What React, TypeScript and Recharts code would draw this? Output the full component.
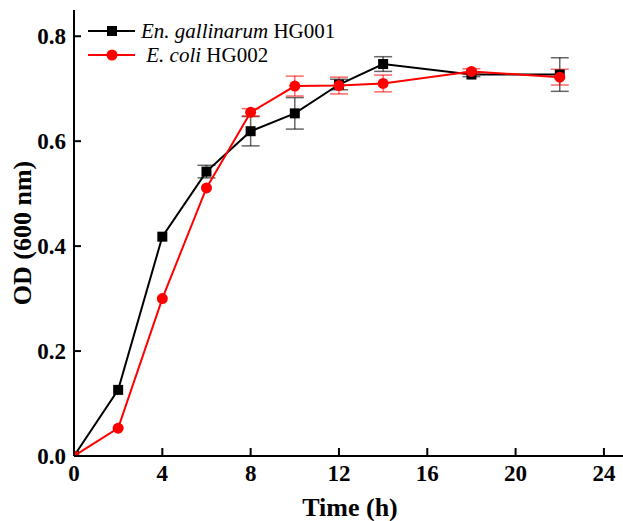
import React from "react";
import { LineChart, Line, XAxis, YAxis, ErrorBar, Legend } from "recharts";

// growth curves, OD600 over time
const timeH = [0, 2, 4, 6, 8, 10, 12, 14, 18, 22];
const enGallinarum = [0, 0.126, 0.418, 0.542, 0.619, 0.653, 0.708, 0.747, 0.727, 0.727];
const enGallinarumErr = [0, 0, 0, 0.012, 0.028, 0.03, 0.01, 0.014, 0.004, 0.032];
const eColi = [0, 0.053, 0.3, 0.511, 0.655, 0.705, 0.706, 0.71, 0.733, 0.722];
const eColiErr = [0, 0, 0, 0, 0.007, 0.019, 0.016, 0.016, 0.005, 0.015];

const xTicks = [0, 4, 8, 12, 16, 20, 24];
const yTicks = [0, 0.2, 0.4, 0.6, 0.8];

const legendItems = [
  { italic: "En. gallinarum", rest: " HG001", color: "#000000", shape: "square" },
  { italic: " E. coli", rest: " HG002", color: "#ff0000", shape: "circle" },
];

const data = timeH.map((t, i) => ({
  t,
  en: enGallinarum[i],
  enErr: enGallinarumErr[i],
  ec: eColi[i],
  ecErr: eColiErr[i],
}));

const FONT = "'Liberation Serif', 'Times New Roman', serif";
const TICK_GAP = 8;

function XTick(props: any) {
  const { x, y, payload } = props;
  const ay = y - TICK_GAP;
  return (
    <g>
      <line x1={x} x2={x} y1={ay} y2={ay - 8} stroke="#000" strokeWidth={2} />
      <text x={x} y={y} dy="0.75em" textAnchor="middle" fontFamily={FONT} fontWeight="bold" fontSize={23} fill="#000">
        {payload.value}
      </text>
    </g>
  );
}

function YTick(props: any) {
  const { x, y, payload } = props;
  const ax = x + TICK_GAP;
  return (
    <g>
      <line x1={ax} x2={ax + 7} y1={y} y2={y} stroke="#000" strokeWidth={2} />
      <text x={x} y={y} dy="0.35em" textAnchor="end" fontFamily={FONT} fontWeight="bold" fontSize={23} fill="#000">
        {payload.value.toFixed(1)}
      </text>
    </g>
  );
}

function XTitle(props: any) {
  const { viewBox } = props;
  return (
    <text x={viewBox.x + viewBox.width / 2} y={viewBox.y + 51} dy="0.35em" textAnchor="middle"
      fontFamily={FONT} fontWeight="bold" fontSize={26} fill="#000">
      Time (h)
    </text>
  );
}

function YTitle(props: any) {
  const { viewBox } = props;
  const cx = viewBox.x + 22;
  const cy = viewBox.y + viewBox.height / 2;
  return (
    <text x={cx} y={cy} dy="0.35em" textAnchor="middle" transform={`rotate(-90 ${cx} ${cy})`}
      fontFamily={FONT} fontWeight="bold" fontSize={26} fill="#000">
      OD (600 nm)
    </text>
  );
}

function SquareDot(props: any) {
  const { cx, cy } = props;
  if (cx == null || cy == null) return null;
  return <rect x={cx - 5} y={cy - 5} width={10} height={10} fill="#000" />;
}

function LegendBox() {
  return (
    <svg width={280} height={60}>
      {legendItems.map((it, i) => {
        const y = 17 + i * 24;
        return (
          <g key={i}>
            <line x1={8} x2={55} y1={y} y2={y} stroke={it.color} strokeWidth={2} />
            {it.shape === "square" ? (
              <rect x={27} y={y - 5} width={10} height={10} fill={it.color} />
            ) : (
              <circle cx={32} cy={y} r={5.5} fill={it.color} />
            )}
            <text x={61} y={y} dy="0.35em" fontFamily={FONT} fontSize={21} fill="#000" xmlSpace="preserve">
              <tspan fontStyle="italic">{it.italic}</tspan>
              <tspan>{it.rest}</tspan>
            </text>
          </g>
        );
      })}
    </svg>
  );
}

export default function App() {
  return (
    <div style={{ position: "absolute", left: 0, top: 0, width: 623, height: 521, overflow: "hidden", background: "#fff" }}>
      <LineChart width={640} height={521} data={data} margin={{ top: 10, right: 14, bottom: 0, left: 0 }}>
        <XAxis
          dataKey="t"
          type="number"
          domain={[0, 25]}
          ticks={xTicks}
          allowDataOverflow
          height={65}
          tickSize={0}
          tickMargin={TICK_GAP}
          tick={<XTick />}
          axisLine={{ stroke: "#000", strokeWidth: 2 }}
          label={<XTitle />}
        />
        <XAxis xAxisId="top" orientation="top" type="number" domain={[0, 25]} height={0} tick={false} tickLine={false}
          axisLine={{ stroke: "#000", strokeWidth: 2 }} />
        <YAxis
          type="number"
          domain={[0, 0.85]}
          ticks={yTicks}
          allowDataOverflow
          width={74}
          tickSize={0}
          tickMargin={TICK_GAP}
          tick={<YTick />}
          axisLine={{ stroke: "#000", strokeWidth: 2 }}
          label={<YTitle />}
        />
        <YAxis yAxisId="right" orientation="right" type="number" domain={[0, 0.85]} width={0} tick={false} tickLine={false}
          axisLine={{ stroke: "#000", strokeWidth: 2 }} />
        <Legend
          layout="vertical"
          align="center"
          verticalAlign="middle"
          content={<LegendBox />}
          wrapperStyle={{ position: "absolute", left: 80, top: 14, width: 280 }}
        />
        <Line
          dataKey="en"
          stroke="#000"
          strokeWidth={2}
          dot={<SquareDot />}
          activeDot={false}
          isAnimationActive={false}
        >
          <ErrorBar dataKey="enErr" width={9} stroke="#000" strokeOpacity={0.6} strokeWidth={1.5} />
        </Line>
        <Line
          dataKey="ec"
          stroke="#ff0000"
          strokeWidth={2}
          dot={{ r: 5.5, fill: "#ff0000", stroke: "#ff0000", strokeWidth: 0 }}
          activeDot={false}
          isAnimationActive={false}
        >
          <ErrorBar dataKey="ecErr" width={9} stroke="#ff0000" strokeOpacity={0.6} strokeWidth={1.5} />
        </Line>
      </LineChart>
    </div>
  );
}
